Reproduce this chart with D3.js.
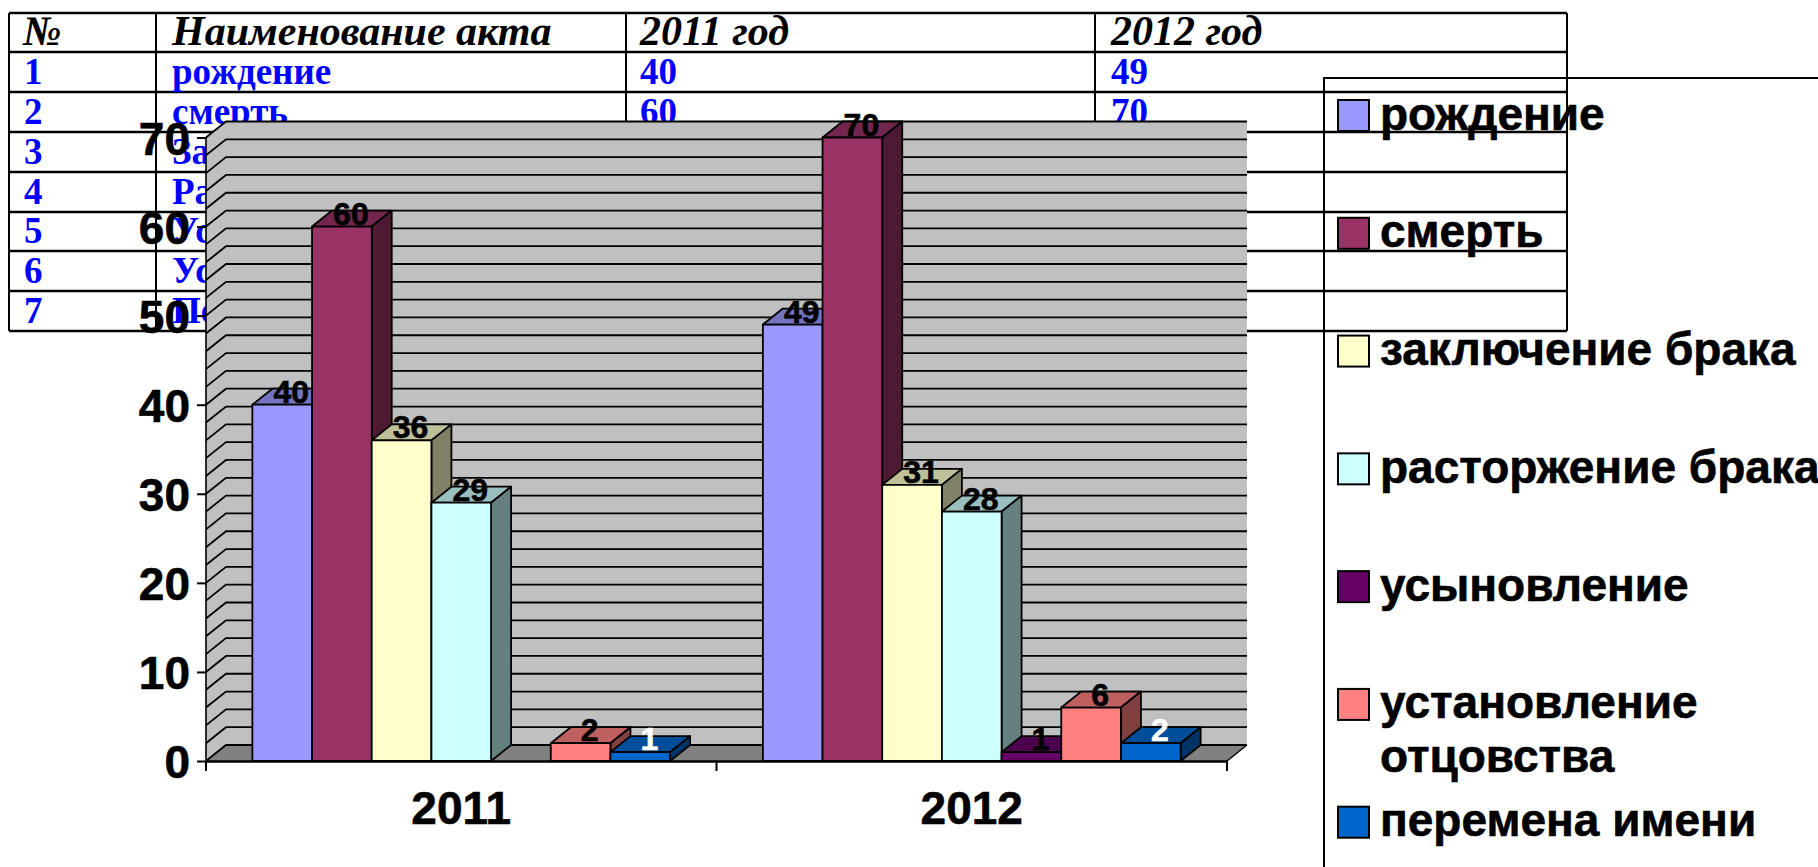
<!DOCTYPE html>
<html><head><meta charset="utf-8">
<script src="https://cdn.jsdelivr.net/npm/d3@7"></script>
<style>html,body{margin:0;padding:0;background:#fff;overflow:hidden}svg{display:block}</style>
</head><body><svg id="c" width="1818" height="867"></svg>
<script>
const years = ["2011","2012"];
const seriesNames = ["рождение","смерть","заключение брака","расторжение брака","усыновление","установление отцовства","перемена имени"];
const values2011 = [40,60,36,29,null,2,1];
const values2012 = [49,70,31,28,1,6,2];
const colors = ["#9999FF","#993366","#FFFFCC","#CCFFFF","#660066","#FF8080","#0066CC"];
const labelColors = ["#000","#000","#000","#000","#000","#000","#fff"];
const yTicks = [0,10,20,30,40,50,60,70];
const gridValues = d3.range(0,71,2);
const tableHeader = ["№","Наименование акта","2011 год","2012 год"];
const tableNumbers = ["1","2","3","4","5","6","7"];
const tableNames = ["рождение","смерть","Заключение брака","Расторжение брака","Усыновление","Установление отцовства","Перемена имени"];
const table2011 = ["40","60","36","29","0","2","1"];
const table2012 = ["49","70","31","28","1","6","2"];
const legendLines = [["рождение"],["смерть"],["заключение брака"],["расторжение брака"],["усыновление"],["установление","отцовства"],["перемена имени"]];

const svg = d3.select("#c");
const SANS = "'Liberation Sans',Arial,sans-serif", SERIF = "'Liberation Serif','Times New Roman',serif";

// ---------- table ----------
const colX = [9,156,626,1095,1567], rowY = [13,52,92,132,172,212,251,291,331];
const tbl = svg.append("g");
const cols = [tableNumbers,tableNames,table2011,table2012], textX=[24,172,640,1111];
rowY.forEach(y=>tbl.append("line").attr("x1",colX[0]).attr("x2",colX[4]).attr("y1",y).attr("y2",y).attr("stroke","#000").attr("stroke-width",2.4));
colX.forEach(x=>tbl.append("line").attr("x1",x).attr("x2",x).attr("y1",rowY[0]).attr("y2",rowY[8]).attr("stroke","#000").attr("stroke-width",2));
tableHeader.forEach((t,i)=>tbl.append("text").text(t).attr("x",textX[i]-(i===0?1:0)).attr("y",rowY[1]-7).attr("font-family",SERIF).attr("font-size",42).attr("font-weight","bold").attr("font-style","italic").attr("fill","#000"));
cols.forEach((col,i)=>col.forEach((t,j)=>tbl.append("text").text(t).attr("x",textX[i]).attr("y",rowY[j+2]-8).attr("font-family",SERIF).attr("font-size",37).attr("font-weight","bold").attr("fill","#0000FF")));

// ---------- scales ----------
const DX=20, DY=-16;
const y = d3.scaleLinear().domain([0,70]).range([761,137.5]);
const x0 = d3.scaleBand().domain(years).range([206,1227]);
const x1 = d3.scaleBand().domain(seriesNames).range([0,x0.bandwidth()]).paddingInner(0).paddingOuter(0.777);
const poly = pts => pts.map(p=>p.join(",")).join(" ");
const plot = svg.append("g");
const [L,R] = x0.range(), B=y(0), T=y(70);

// walls and floor
plot.append("polygon").attr("points",poly([[L+DX,B+DY],[R+DX,B+DY],[R+DX,T+DY],[L+DX,T+DY]])).attr("fill","#C0C0C0");
plot.append("polygon").attr("points",poly([[L,B],[L+DX,B+DY],[L+DX,T+DY],[L,T]])).attr("fill","#C0C0C0");
plot.append("polygon").attr("points",poly([[L,B],[R,B],[R+DX,B+DY],[L+DX,B+DY]])).attr("fill","#808080");
plot.append("polyline").attr("points",poly([[R,B],[R+DX,B+DY]])).attr("stroke","#000").attr("stroke-width",1.5).attr("fill","none");
// gridlines
gridValues.forEach(v=>{
  const yy=y(v);
  plot.append("polyline").attr("points",poly([[L,yy],[L+DX,yy+DY],[R+DX,yy+DY]])).attr("fill","none").attr("stroke","#000").attr("stroke-width",1.8);
});
plot.append("line").attr("x1",L).attr("x2",L).attr("y1",B).attr("y2",T).attr("stroke","#000").attr("stroke-width",1.6);

// bars
const shade=(c,k)=>{const r=d3.rgb(c);return d3.rgb(r.r*k,r.g*k,r.b*k).formatHex();};
const rows=[values2011,values2012];
const labels=[];
years.forEach((yr,yi)=>{
  seriesNames.forEach((s,si)=>{
    const v=rows[yi][si]; if(v==null) return;
    const a=x0(yr)+x1(s), b=a+x1.bandwidth(), t=y(v);
    const g=plot.append("g").attr("stroke","#000").attr("stroke-width",1.8).attr("stroke-linejoin","round");
    g.append("polygon").attr("points",poly([[a,t],[a+DX,t+DY],[b+DX,t+DY],[b,t]])).attr("fill",shade(colors[si],0.75));
    g.append("polygon").attr("points",poly([[b,B],[b+DX,B+DY],[b+DX,t+DY],[b,t]])).attr("fill",shade(colors[si],0.5));
    g.append("rect").attr("x",a).attr("y",t).attr("width",b-a).attr("height",B-t).attr("fill",colors[si]);
    labels.push({v,x:(a+b)/2+DX/2-1,y:t+DY/2,c:labelColors[si]});
  });
});
labels.forEach(l=>plot.append("text").text(l.v).attr("x",l.x).attr("y",l.y+6).attr("text-anchor","middle").attr("font-family",SANS).attr("font-size",32).attr("font-weight","bold").attr("fill",l.c).attr("stroke",l.c).attr("stroke-width",0.6));

// axes
const yAxis = d3.axisLeft(y).tickValues(yTicks).tickSize(9).tickPadding(7);
const gy=svg.append("g").attr("transform",`translate(${L},0)`).call(yAxis);
gy.select(".domain").remove();
gy.selectAll("line").attr("stroke","#000").attr("stroke-width",2);
gy.selectAll("text").attr("font-family",SANS).attr("font-size",46).attr("font-weight","bold").attr("fill","#000").attr("stroke","#000").attr("stroke-width",0.6).attr("dy","0.36em");
const xAxis = d3.axisBottom(x0).tickSize(0).tickPadding(30);
const gx=svg.append("g").attr("transform",`translate(0,${B})`).call(xAxis);
gx.select(".domain").attr("stroke","#000").attr("stroke-width",2.5);
gx.selectAll("text").attr("font-family",SANS).attr("font-size",46).attr("font-weight","bold").attr("fill","#000").attr("stroke","#000").attr("stroke-width",0.6);
[...years.map(d=>x0(d)),R].forEach(xx=>gx.append("line").attr("x1",xx).attr("x2",xx).attr("y1",0).attr("y2",10).attr("stroke","#000").attr("stroke-width",2));

// ---------- legend ----------
const leg=svg.append("g");
leg.append("polyline").attr("points",poly([[1818,78],[1324,78],[1324,867]])).attr("fill","none").attr("stroke","#000").attr("stroke-width",2);
const ly = d3.scaleLinear().domain([0,6]).range([100,806.7]);
legendLines.forEach((lines,i)=>{
  leg.append("rect").attr("x",1338).attr("y",ly(i)).attr("width",31).attr("height",31).attr("fill",colors[i]).attr("stroke","#000").attr("stroke-width",2);
  lines.forEach((t,j)=>leg.append("text").text(t).attr("x",1380).attr("y",ly(i)+29.5+j*53.7).attr("font-family",SANS).attr("font-size",46).attr("font-weight","bold").attr("fill","#000").attr("stroke","#000").attr("stroke-width",0.6));
});
</script></body></html>
